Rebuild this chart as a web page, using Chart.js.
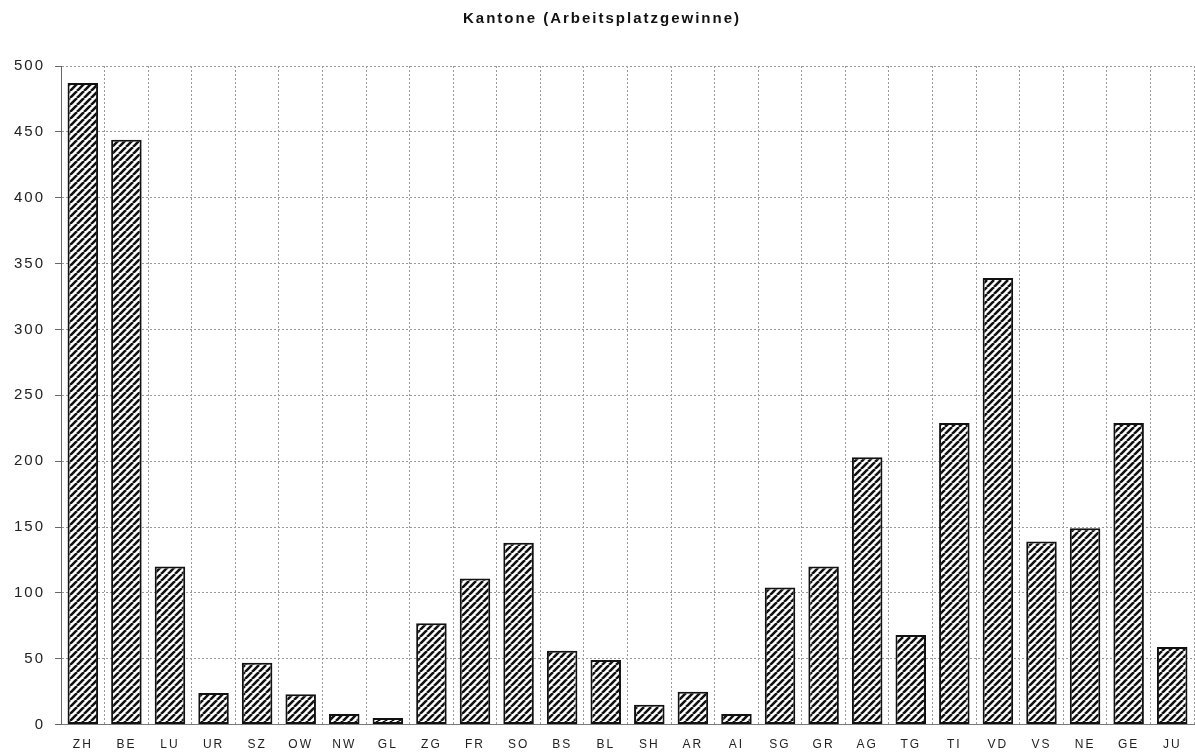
<!DOCTYPE html>
<html>
<head>
<meta charset="utf-8">
<script src="https://cdn.jsdelivr.net/npm/chart.js@4/dist/chart.umd.min.js"></script>
<style>
    html, body { margin: 0; padding: 0; background: #fff; }
    .chartContainer { width: 1195px; height: 752px; position: relative; }
</style>
</head>
<body>
<div class="chartContainer">
    <canvas id="chart"></canvas>
</div>
<script>
const cantons = ['ZH', 'BE', 'LU', 'UR', 'SZ', 'OW', 'NW', 'GL', 'ZG', 'FR', 'SO', 'BS', 'BL',
    'SH', 'AR', 'AI', 'SG', 'GR', 'AG', 'TG', 'TI', 'VD', 'VS', 'NE', 'GE', 'JU'];
const jobGains = [487, 444, 120, 24, 47, 23, 8, 5, 77, 111, 138, 56, 49,
    15, 25, 8, 104, 120, 203, 68, 229, 339, 139, 149, 229, 59];
const yTicks = [0, 50, 100, 150, 200, 250, 300, 350, 400, 450, 500];

// diagonal hatch like the printed original
const makeHatch = () => {
    const size = 7;
    const c = document.createElement('canvas');
    c.width = size;
    c.height = size;
    const g = c.getContext('2d');
    g.fillStyle = '#fff';
    g.fillRect(0, 0, size, size);
    g.strokeStyle = '#111';
    g.lineWidth = 2.6;
    g.beginPath();
    for (let k = -1; k <= 1; k++) {
        g.moveTo(k * size, size);
        g.lineTo(k * size + size, 0);
    }
    g.stroke();
    return g.createPattern(c, 'repeat');
};

const spacing = {
    id: 'spacing',
    beforeDraw(chart) {
        chart.ctx.letterSpacing = '2px';
    }
};

const ctx = document.getElementById('chart').getContext('2d');
new Chart(ctx, {
    type: 'bar',
    data: {
        labels: cantons,
        datasets: [{
            data: jobGains,
            backgroundColor: makeHatch(),
            borderColor: '#111',
            borderWidth: 2,
            borderSkipped: false,
            barPercentage: 0.7,
            categoryPercentage: 1
        }]
    },
    options: {
        responsive: true,
        maintainAspectRatio: false,
        animation: false,
        layout: {padding: {top: 8, right: 1, left: 10, bottom: -13}},
        plugins: {
            legend: {display: false},
            tooltip: {enabled: false},
            title: {
                display: true,
                text: 'Kantone (Arbeitsplatzgewinne)',
                color: '#111',
                font: {family: 'Liberation Sans', size: 15, weight: 'bold'},
                padding: {top: 2, bottom: 38}
            }
        },
        scales: {
            x: {
                offset: true,
                grid: {
                    offset: true,
                    color: '#999',
                    lineWidth: 1,
                    drawTicks: false
                },
                border: {display: true, color: '#777', dash: [2, 2]},
                ticks: {
                    color: '#222',
                    padding: 13,
                    autoSkip: false,
                    maxRotation: 0,
                    font: {family: 'Liberation Sans', size: 12}
                }
            },
            y: {
                min: 0,
                max: 500,
                afterBuildTicks: (axis) => {
                    axis.ticks = yTicks.map(v => ({value: v}));
                },
                grid: {
                    color: '#999',
                    lineWidth: 1,
                    tickLength: 6,
                    tickColor: '#666'
                },
                border: {display: true, color: '#666', dash: [2, 2]},
                ticks: {
                    color: '#222',
                    padding: 10,
                    font: {family: 'Liberation Sans', size: 15}
                }
            }
        }
    },
    plugins: [spacing]
});
</script>
</body>
</html>
